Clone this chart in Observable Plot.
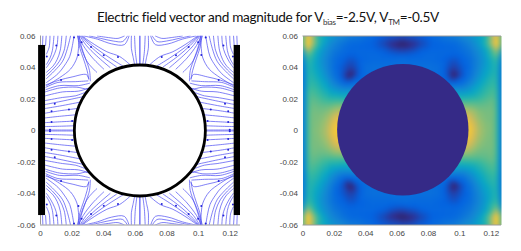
<!DOCTYPE html>
<html><head><meta charset="utf-8">
<script src="https://cdn.jsdelivr.net/npm/d3@7"></script>
<script src="https://cdn.jsdelivr.net/npm/@observablehq/plot@0.6"></script>
<style>
html,body{margin:0;padding:0;background:#fff;width:521px;height:251px;overflow:hidden}
#title{position:absolute;left:97px;top:8px;text-align:left;font:13.6px Lato,sans-serif;letter-spacing:-0.32px;color:#111;white-space:nowrap;line-height:18px}
#title sub{font-size:8px;line-height:0;vertical-align:-3px;color:#333}
#a,#b{position:absolute;top:0}
#a{left:0}#b{left:260px}
svg{display:block}
</style></head><body>
<div id="a"></div><div id="b"></div>
<div id="title">Electric field vector and magnitude for V<sub>bias</sub>=-2.5V, V<sub>TM</sub>=-0.5V</div>
<script>
// Units of the arrays below: x and y in thousandths of the axis unit.
const xTicks=[0,0.02,0.04,0.06,0.08,0.1,0.12];
const yTicks=[-0.06,-0.04,-0.02,0,0.02,0.04,0.06];

// Streamlines read from the upper left quadrant (the field is mirror symmetric)
const streamlines=[
 [[3,0.3],[12,0.3],[21.3,0.3]],
 [[3,2.5],[12,2.7],[21.4,3]],
 [[3,5],[12,5.5],[21.8,6]],
 [[3,8],[12,9],[22.5,10]],
 [[3,11],[12,12.5],[23.5,14]],
 [[3,14],[12,15.5],[25,18]],
 [[3,16.5],[13,18.5],[27,21.5]],
 [[3,19],[14,21],[22,22],[29,24.5]],
 [[3,22],[14,24.5],[24,25],[31,27]],
 [[3,24.5],[12,27],[23,27.5],[30,26.5],[33.5,29.5]],
 [[3.5,26],[12,28.5],[24,28.5],[31,30]],
 [[3.5,27.5],[11,30.5],[22,31],[30,31.5]],
 [[3.5,29],[12,32],[20,34],[29,35.5],[30.5,33]],
 [[3.8,30.5],[11,36],[15,41],[18.5,47],[20,53],[21.2,60]],
 [[3.8,28.5],[12,33.5],[19,39],[23,46],[24,52],[24.4,60]],
 [[3.8,33],[9,38],[14,44],[17,52],[19,60]],
 [[3.8,35],[8,39],[12,44],[15,51],[16.3,60]],
 [[3.8,37],[8,41],[10.5,45],[12.5,51],[13.5,60]],
 [[3.8,40],[6.5,44],[9,49],[10.5,54],[11,60]],
 [[3.8,42],[6,46],[7.5,50.7],[8.5,60]],
 [[3.8,48.6],[5.5,53],[6,60]],
 [[3.2,54],[3.6,60]],
 [[1.3,54],[1.5,60]],
 [[30.5,32.5],[29.5,38],[27,46],[25,52],[23.5,60]],
 [[31.5,31.5],[31,38],[28,47],[26,53],[24.5,60]],
 [[35.5,37],[30,43],[27,49],[23.5,60]],
 [[40,39],[33,46],[27,54],[24,60]],
 [[44,40],[35.4,47.5],[29,54],[25,60]],
 [[48,40.5],[39,47],[31,54],[25.5,60]],
 [[52,41],[44,46],[34,53],[26,60]],
 [[56.4,42],[50,47],[42,50],[32,56],[26.5,60]],
 [[27.5,60],[36,58],[45,55],[53,54.5],[56,60]],
 [[31,60],[38,58.5],[46,56.8],[52,56.5],[55,60]],
 [[36,60],[43,59],[49,58.5],[53,60]],
 [[59.5,42],[58.5,47],[57.5,52],[57.5,60]],
 [[61,42],[60,50],[59.5,60]],
 [[62.85,41.5],[62.85,60]]
];
// Positions of the small arrow heads on the streamlines
const arrowHeads=[[6,0.4],[22,0.4],[7,5.4],[20,6],[7,12.3],[18,13.4],[9,17],[27,21.5],
 [4,47],[10,54],[24,48],[26,56],[32,53],[40,47.7],[49,46.7],[21.2,59],[29,24.5],[13,32]];

// Field magnitude, read on a grid from the upper left quadrant
const gridX=[0,1,2,5,10,15,20,25,30,35,40,45,50,55,63.25];
const gridY=[60,55,50,45,40,35,30,25,20,15,10,5,0];
const magnitude=[
 [.30,.68,.85,.72,.44,.36,.30,.26,.22,.20,.17,.14,.12,.11,.10],
 [.20,.72,.96,.74,.46,.31,.24,.19,.15,.14,.13,.12,.09,.05,.002],
 [.14,.40,.64,.55,.36,.27,.20,.16,.14,.14,.14,.14,.13,.11,.09],
 [.12,.26,.48,.46,.33,.24,.17,.13,.10,.12,.14,.15,.15,.15,.16],
 [.12,.22,.44,.44,.34,.25,.16,.11,.07,.11,.16,.17,.17,.17,.17],
 [.12,.20,.42,.46,.38,.28,.18,.10,.002,.11,.16,.17,.17,.17,.17],
 [.12,.20,.42,.49,.43,.34,.24,.16,.14,.16,.17,.17,.17,.17,.17],
 [.12,.22,.44,.53,.48,.41,.34,.30,.30,.30,.30,.30,.30,.30,.30],
 [.12,.22,.45,.56,.53,.49,.47,.46,.46,.46,.46,.46,.46,.46,.46],
 [.12,.22,.46,.58,.57,.57,.60,.62,.62,.62,.62,.62,.62,.62,.62],
 [.12,.22,.46,.59,.59,.62,.72,.76,.76,.76,.76,.76,.76,.76,.76],
 [.12,.22,.46,.59,.60,.66,.80,.86,.86,.86,.86,.86,.86,.86,.86],
 [.12,.22,.46,.59,.61,.68,.84,.88,.88,.88,.88,.88,.88,.88,.88]
];
const parulaStops=[0,.04,.125,.25,.375,.5,.625,.75,.875,1];
const parulaColors=["#272560","#352a87","#0363e1","#1485d4","#06a7c6","#38b99e","#92bf73","#d9ba56","#fcce2e","#f9fb0e"];

const electrodes=[{x1:-1.2,x2:3.2,y1:-54,y2:54},{x1:122.5,x2:126.5,y1:-54,y2:54}];
const circleA=[{x:62.85,y:0}];
const circleB=[{x:63.6,y:0.5}];

const k=v=>v/1000;
const mirrorStream=62.85, mirrorGrid=63.25;
const lineRows=[];
streamlines.forEach((l,i)=>{
  [[1,1],[-1,1],[1,-1],[-1,-1]].forEach(([sx,sy],q)=>{
    l.forEach(([x,y])=>lineRows.push({id:i+"_"+q,x:k(sx>0?x:2*mirrorStream-x),y:k(sy*y)}));
  });
});
const arrowRows=arrowHeads.flatMap(([x,y])=>[[x,y],[2*mirrorStream-x,y],[x,-y],[2*mirrorStream-x,-y]].map(([a,b])=>({x:k(a),y:k(b)})));
const cells=[];
gridY.forEach((y,r)=>gridX.forEach((x,c)=>{
  for(const px of (x===mirrorGrid?[x]:[x,2*mirrorGrid-x]))
    for(const py of (y===0?[0]:[y,-y]))
      cells.push({x:k(px),y:k(py),v:magnitude[r][c]});
}));

const base={height:251,marginTop:35.5,marginBottom:26.5,style:{background:"transparent",fontFamily:"'Liberation Sans',sans-serif",fontSize:"8px",color:"#444"}};
const scales={
  x:{domain:[0,0.1265]},
  y:{domain:[-0.06,0.06]}
};
const axes=[
  Plot.axisX({ticks:xTicks,tickFormat:d=>String(d),tickSize:0,tickPadding:5,label:null,fill:"#444"}),
  Plot.axisY({ticks:yTicks,tickFormat:d=>String(d).replace("−","-"),tickSize:0,tickPadding:5,label:null,fill:"#444"})
];
const gray="#9a9a9a";
const frameA=Plot.plot({...base,width:260,marginLeft:40,marginRight:20,...scales,marks:[
  Plot.ruleY([-0.06],{stroke:gray,strokeWidth:1}),
  Plot.ruleX([0],{stroke:gray,strokeWidth:1}),
  Plot.line(lineRows,{x:"x",y:"y",z:"id",stroke:"#4a4af2",strokeWidth:0.7,curve:"catmull-rom",clip:true}),
  Plot.dot(arrowRows,{x:"x",y:"y",r:1,fill:"#2222d8"}),
  Plot.rectY(electrodes,{x1:d=>k(d.x1),x2:d=>k(d.x2),y1:d=>k(d.y1),y2:d=>k(d.y2),fill:"#000"}),
  Plot.dot(circleA,{x:d=>k(d.x),y:d=>k(d.y),r:65.5,fill:"#fff",stroke:"#000",strokeWidth:2.8}),
  ...axes
]});
const frameB=Plot.plot({...base,width:261,marginLeft:42.5,marginRight:20,...scales,
  color:{type:"linear",domain:parulaStops,range:parulaColors},marks:[
  Plot.raster(cells,{x:"x",y:"y",fill:"v",interpolate:"barycentric",pixelSize:1,blur:2}),
  Plot.dot(circleB,{x:d=>k(d.x),y:d=>k(d.y),r:65.7,fill:"#352a87"}),
  Plot.ruleY([-0.06,0.06],{stroke:gray,strokeWidth:1}),
  ...axes
]});
document.getElementById("a").append(frameA);
document.getElementById("b").append(frameB);
</script>
</body></html>
